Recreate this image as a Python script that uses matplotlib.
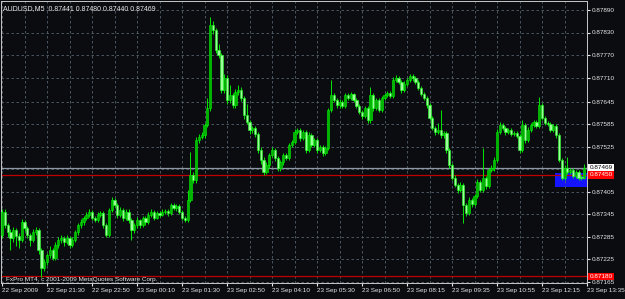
import numpy as np
import matplotlib.pyplot as plt
from matplotlib.patches import Rectangle
import matplotlib.transforms as mtransforms

plt.rcParams['font.family'] = ['Liberation Sans', 'DejaVu Sans']

# AUDUSD M5 candles, prices in points (1e-5)
opens = [87290, 87352, 87317, 87298, 87282, 87304, 87288, 87277, 87325, 87309,
         87290, 87277, 87298, 87304, 87250, 87202, 87218, 87237, 87250, 87229,
         87264, 87277, 87282, 87272, 87282, 87264, 87277, 87298, 87317, 87325,
         87336, 87344, 87352, 87336, 87330, 87344, 87349, 87317, 87290, 87357,
         87384, 87370, 87344, 87357, 87336, 87352, 87330, 87304, 87317, 87330,
         87317, 87336, 87325, 87344, 87352, 87336, 87349, 87344, 87352, 87354,
         87349, 87370, 87362, 87368, 87352, 87336, 87330, 87384, 87450, 87437,
         87544, 87552, 87557, 87584, 87629, 87850, 87837, 87784, 87770, 87677,
         87709, 87650, 87664, 87637, 87672, 87677, 87656, 87610, 87592, 87570,
         87576, 87560, 87517, 87490, 87458, 87477, 87504, 87517, 87496, 87469,
         87485, 87504, 87496, 87530, 87538, 87565, 87570, 87549, 87565, 87517,
         87557, 87530, 87544, 87517, 87525, 87509, 87522, 87624, 87664, 87650,
         87637, 87645, 87634, 87664, 87656, 87666, 87650, 87634, 87618, 87608,
         87629, 87597, 87664, 87629, 87650, 87624, 87656, 87664, 87669, 87661,
         87704, 87709, 87698, 87677, 87693, 87704, 87714, 87709, 87698, 87682,
         87666, 87656, 87637, 87602, 87576, 87565, 87570, 87557, 87562, 87517,
         87477, 87442, 87424, 87410, 87424, 87370, 87349, 87384, 87373, 87394,
         87432, 87410, 87442, 87421, 87464, 87469, 87490, 87565, 87584, 87576,
         87565, 87570, 87560, 87562, 87554, 87517, 87584, 87544, 87570, 87584,
         87592, 87581, 87637, 87602, 87589, 87586, 87570, 87581, 87557, 87490,
         87442, 87469, 87458, 87464, 87448, 87458, 87442, 87441]
highs = [87360, 87358, 87322, 87305, 87312, 87310, 87295, 87332, 87330, 87315,
         87296, 87305, 87312, 87310, 87256, 87225, 87242, 87262, 87256, 87270,
         87285, 87290, 87288, 87290, 87287, 87284, 87304, 87322, 87333, 87342,
         87350, 87360, 87356, 87342, 87350, 87355, 87354, 87322, 87362, 87392,
         87390, 87376, 87364, 87362, 87358, 87358, 87336, 87322, 87338, 87334,
         87342, 87340, 87350, 87360, 87356, 87355, 87354, 87358, 87360, 87358,
         87376, 87375, 87372, 87372, 87356, 87342, 87410, 87512, 87458, 87552,
         87560, 87566, 87590, 87656, 87872, 87860, 87842, 87800, 87776, 87720,
         87716, 87690, 87670, 87680, 87690, 87684, 87662, 87640, 87598, 87582,
         87582, 87566, 87524, 87498, 87484, 87510, 87524, 87522, 87502, 87490,
         87510, 87510, 87536, 87544, 87572, 87576, 87575, 87570, 87570, 87564,
         87562, 87550, 87550, 87530, 87530, 87528, 87630, 87704, 87670, 87656,
         87652, 87650, 87670, 87668, 87672, 87670, 87656, 87640, 87624, 87634,
         87634, 87685, 87670, 87656, 87655, 87662, 87670, 87674, 87674, 87712,
         87718, 87714, 87704, 87700, 87710, 87720, 87720, 87714, 87704, 87688,
         87672, 87662, 87642, 87608, 87582, 87590, 87624, 87568, 87568, 87522,
         87482, 87450, 87430, 87432, 87430, 87376, 87392, 87390, 87400, 87440,
         87438, 87522, 87448, 87470, 87476, 87498, 87572, 87592, 87590, 87582,
         87576, 87575, 87568, 87567, 87560, 87596, 87590, 87578, 87590, 87598,
         87597, 87658, 87642, 87607, 87594, 87592, 87586, 87586, 87562, 87496,
         87476, 87498, 87470, 87470, 87464, 87463, 87450, 87480]
lows = [87282, 87310, 87285, 87250, 87270, 87262, 87256, 87270, 87300, 87282,
        87262, 87270, 87290, 87240, 87178, 87195, 87210, 87228, 87222, 87222,
        87255, 87268, 87262, 87265, 87255, 87258, 87270, 87290, 87310, 87318,
        87330, 87338, 87330, 87324, 87325, 87338, 87310, 87284, 87284, 87350,
        87364, 87336, 87338, 87328, 87330, 87322, 87277, 87296, 87310, 87310,
        87312, 87318, 87320, 87338, 87330, 87332, 87338, 87340, 87346, 87342,
        87344, 87356, 87355, 87346, 87330, 87325, 87325, 87378, 87428, 87430,
        87536, 87545, 87550, 87578, 87622, 87826, 87776, 87762, 87668, 87670,
        87640, 87642, 87630, 87630, 87664, 87648, 87600, 87585, 87560, 87562,
        87552, 87508, 87480, 87450, 87452, 87470, 87498, 87488, 87462, 87462,
        87478, 87490, 87490, 87524, 87532, 87560, 87542, 87544, 87510, 87512,
        87524, 87524, 87510, 87512, 87502, 87504, 87516, 87618, 87644, 87630,
        87630, 87628, 87628, 87650, 87650, 87644, 87628, 87612, 87600, 87602,
        87590, 87590, 87622, 87624, 87618, 87618, 87650, 87658, 87655, 87656,
        87698, 87692, 87670, 87672, 87688, 87698, 87702, 87692, 87676, 87660,
        87650, 87630, 87596, 87570, 87558, 87560, 87550, 87550, 87510, 87470,
        87436, 87418, 87402, 87404, 87322, 87340, 87344, 87366, 87368, 87388,
        87404, 87404, 87414, 87416, 87458, 87462, 87484, 87560, 87570, 87558,
        87560, 87554, 87555, 87548, 87510, 87512, 87536, 87538, 87565, 87578,
        87575, 87576, 87596, 87584, 87580, 87564, 87565, 87550, 87484, 87436,
        87436, 87452, 87452, 87442, 87443, 87436, 87436, 87440]
closes = [87352, 87317, 87298, 87282, 87304, 87288, 87277, 87325, 87309, 87290,
          87277, 87298, 87304, 87250, 87202, 87218, 87237, 87250, 87229, 87264,
          87277, 87282, 87272, 87282, 87264, 87277, 87298, 87317, 87325, 87336,
          87344, 87352, 87336, 87330, 87344, 87349, 87317, 87290, 87357, 87384,
          87370, 87344, 87357, 87336, 87352, 87330, 87304, 87317, 87330, 87317,
          87336, 87325, 87344, 87352, 87336, 87349, 87344, 87352, 87354, 87349,
          87370, 87362, 87368, 87352, 87336, 87330, 87384, 87450, 87437, 87544,
          87552, 87557, 87584, 87629, 87850, 87837, 87784, 87770, 87677, 87709,
          87650, 87664, 87637, 87672, 87677, 87656, 87610, 87592, 87570, 87576,
          87560, 87517, 87490, 87458, 87477, 87504, 87517, 87496, 87469, 87485,
          87504, 87496, 87530, 87538, 87565, 87570, 87549, 87565, 87517, 87557,
          87530, 87544, 87517, 87525, 87509, 87522, 87624, 87664, 87650, 87637,
          87645, 87634, 87664, 87656, 87666, 87650, 87634, 87618, 87608, 87629,
          87597, 87664, 87629, 87650, 87624, 87656, 87664, 87669, 87661, 87704,
          87709, 87698, 87677, 87693, 87704, 87714, 87709, 87698, 87682, 87666,
          87656, 87637, 87602, 87576, 87565, 87570, 87557, 87562, 87517, 87477,
          87442, 87424, 87410, 87424, 87370, 87349, 87384, 87373, 87394, 87432,
          87410, 87442, 87421, 87464, 87469, 87490, 87565, 87584, 87576, 87565,
          87570, 87560, 87562, 87554, 87517, 87584, 87544, 87570, 87584, 87592,
          87581, 87637, 87602, 87589, 87586, 87570, 87581, 87557, 87490, 87442,
          87469, 87458, 87464, 87448, 87458, 87442, 87441, 87469]

time_labels = ['22 Sep 2009', '22 Sep 21:30', '22 Sep 22:50', '23 Sep 00:10',
               '23 Sep 01:30', '23 Sep 02:50', '23 Sep 04:10', '23 Sep 05:30',
               '23 Sep 06:50', '23 Sep 08:15', '23 Sep 09:35', '23 Sep 10:55',
               '23 Sep 12:15', '23 Sep 13:35']
price_ticks = [0.87890, 0.87830, 0.87770, 0.87710, 0.87645, 0.87585, 0.87525,
               0.87465, 0.87405, 0.87345, 0.87285, 0.87225, 0.87165]
hidden_tick = 0.87465

bid = 0.87469
hlines = [0.87450, 0.87180]
box_bar, box_top, box_bottom = 196.5, 0.87456, 0.87418

o = np.array(opens) / 1e5
h = np.array(highs) / 1e5
l = np.array(lows) / 1e5
c = np.array(closes) / 1e5
x = np.arange(len(c))

bg = '#0a0c0f'
txt = '#e6e6e6'
fs = 4.6
fig = plt.figure(figsize=(6.25, 2.99), dpi=100, facecolor=bg)
ax = fig.add_axes([1 / 625, 16 / 299, 586 / 625, 282 / 299], facecolor=bg)

# blue rectangle object
ax.add_patch(Rectangle((box_bar, box_bottom), 220 - box_bar, box_top - box_bottom,
                       facecolor='#1414ff', edgecolor='none', zorder=1))

# horizontal lines
for lv in hlines:
    ax.axhline(lv, color='#c00000', lw=0.9, zorder=2)
ax.axhline(bid, color='#8c98a4', lw=0.9, zorder=2)

# candles
up = c >= o
ax.vlines(x, l, h, color='#00e600', lw=0.7, zorder=3)
body = np.where(np.abs(c - o) < 0.000015, 0.000015, c - o)
ax.bar(x[up], body[up], bottom=o[up], width=0.8, color='#00b400',
       edgecolor='#00f000', linewidth=0.4, zorder=4)
ax.bar(x[~up], body[~up], bottom=o[~up], width=0.8, color='#9cff9c',
       edgecolor='#20ff20', linewidth=0.4, zorder=4)

ax.set_xlim(-0.36, 208)
ax.set_ylim(0.87162, 0.87914)

# axes
ax.set_xticks(np.arange(0, 209, 16))
ax.set_xticklabels(time_labels, ha='left', fontsize=fs, color=txt)
ax.set_xticks(np.arange(8, 209, 16), minor=True)
ax.yaxis.tick_right()
ax.set_yticks(price_ticks)
ax.set_yticklabels(['' if t == hidden_tick else f'{t:.5f}' for t in price_ticks],
                   fontsize=fs, color=txt)
ax.tick_params(axis='x', which='major', length=2, pad=1.5, colors=txt)
ax.tick_params(axis='x', which='minor', length=0)
ax.tick_params(axis='y', length=2, pad=1.5, colors=txt)
ax.grid(True, which='both', color='#56626e', lw=0.6, ls=(0, (3, 3)), zorder=0)
for s in ax.spines.values():
    s.set_color('#c8c8c8')
    s.set_linewidth(0.7)

# price labels on the right
tr = mtransforms.blended_transform_factory(ax.transAxes, ax.transData)
ax.text(1.004, bid, f'{bid:.5f}', transform=tr, fontsize=fs, color='black',
        va='center', ha='left', clip_on=False,
        bbox=dict(facecolor='white', edgecolor='none', pad=0.8))
for lv in hlines:
    ax.text(1.004, lv, f'{lv:.5f}', transform=tr, fontsize=fs, color='white',
            va='center', ha='left', clip_on=False,
            bbox=dict(facecolor='#ff0000', edgecolor='none', pad=0.8))

ax.text(0.004, 0.985, 'AUDUSD,M5  0.87441 0.87480 0.87440 0.87469',
        transform=ax.transAxes, fontsize=fs + 0.4, color=txt, va='top', ha='left')
ax.text(0.008, 0.003, 'FxPro MT4, c 2001-2009 MetaQuotes Software Corp.',
        transform=ax.transAxes, fontsize=fs, color=txt, va='bottom', ha='left')

fig.savefig('out.png', dpi=100, facecolor=bg)
